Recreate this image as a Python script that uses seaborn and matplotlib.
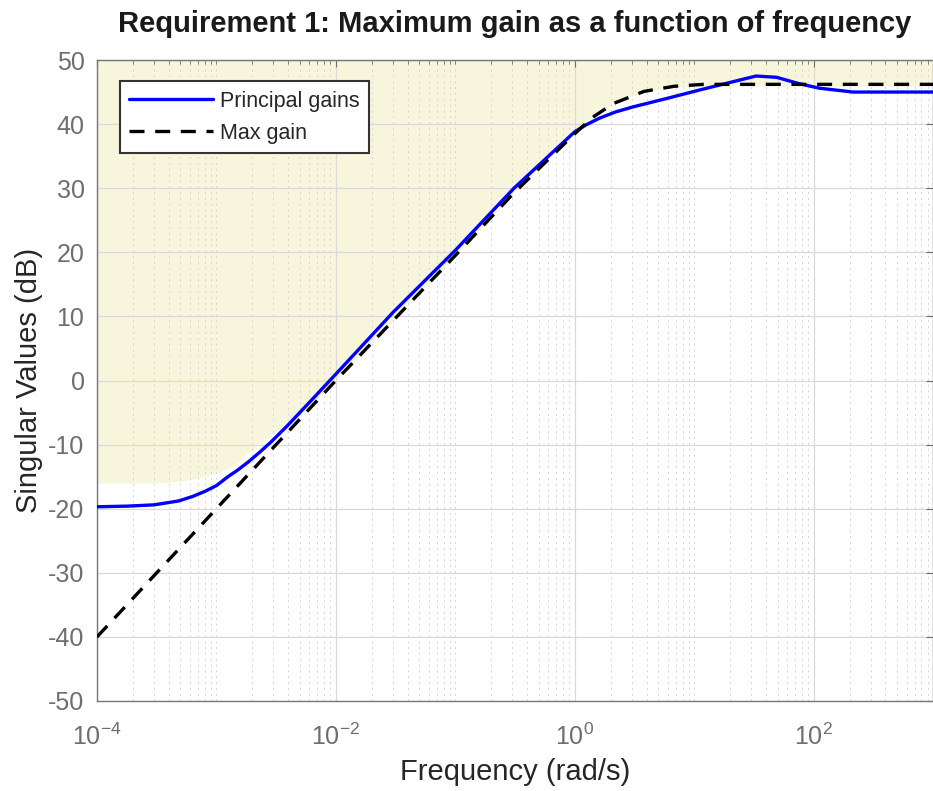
import matplotlib
matplotlib.use("Agg")
import matplotlib.pyplot as plt
import matplotlib.ticker as mticker
import seaborn as sns
import pandas as pd

# Principal gains (blue)
gain_freq = [1e-4, 1.8e-4, 3e-4, 4.8e-4, 6.3e-4, 8e-4, 1e-3, 1.25e-3, 1.5e-3, 1.85e-3, 2.3e-3,
             2.9e-3, 4e-3, 6.3e-3, 1e-2, 3e-2, 0.1, 0.31, 1.0, 1.25, 1.6, 2.2, 3.1, 5.9,
             11, 21, 33, 49, 76, 112, 214, 1000]
gain_db = [-19.7, -19.6, -19.4, -18.8, -18.1, -17.3, -16.4, -15.0, -14.0, -12.7, -11.2,
           -9.5, -6.9, -3.0, 1.0, 10.6, 20.3, 30.0, 38.8, 39.9, 40.9, 41.9, 42.7, 44.0,
           45.3, 46.6, 47.5, 47.3, 46.3, 45.6, 45.0, 45.0]

# Max gain requirement (dashed)
max_freq = [1e-4, 1e-3, 1e-2, 0.1, 0.3, 1.0, 1.4, 2.1, 3.8, 6.8, 12, 1000]
max_db = [-40.0, -20.0, 0.0, 19.5, 29.0, 38.5, 41.0, 43.2, 45.1, 45.9, 46.2, 46.2]

# Lower edge of the shaded (violating) region
shade_freq = [1e-4, 3e-4, 5e-4, 6.6e-4, 9e-4, 1.26e-3, 1.6e-3, 1.95e-3, 2.5e-3, 3.2e-3,
              6e-3, 1e-2, 0.1, 0.3, 1.0, 1.4, 2.1, 3.8, 6.8, 12, 1000]
shade_db = [-16.0, -16.0, -15.7, -15.3, -14.7, -13.7, -12.4, -10.8, -9.4, -8.0,
            -4.2, 0.0, 19.5, 29.0, 38.5, 41.0, 43.2, 45.1, 45.7, 45.9, 45.9]

gains = pd.DataFrame({"freq": gain_freq, "dB": gain_db})
maxg = pd.DataFrame({"freq": max_freq, "dB": max_db})

sns.set_style("white")
plt.rcParams["font.family"] = ["Liberation Sans", "DejaVu Sans"]
plt.rcParams["mathtext.fontset"] = "custom"
plt.rcParams["mathtext.rm"] = "Liberation Sans"
plt.rcParams["axes.unicode_minus"] = False

fig = plt.figure(figsize=(9.33, 7.91), dpi=100)
ax = fig.add_axes([97 / 933, 90 / 791, 836 / 933, 641 / 791])

ax.fill_between(shade_freq, shade_db, 50, color="#f7f6dc", linewidth=0, zorder=0)

sns.lineplot(data=gains, x="freq", y="dB", ax=ax, color="#0000ff", linewidth=2.4,
             label="Principal gains", estimator=None, sort=False, zorder=3)
sns.lineplot(data=maxg, x="freq", y="dB", ax=ax, color="black", linewidth=2.4,
             linestyle=(0, (4.5, 3.2)), label="Max gain", estimator=None, sort=False, zorder=4)

ax.set_xscale("log")
ax.set_xlim(1e-4, 1e3)
ax.set_ylim(-50, 50)
ax.set_yticks(range(-50, 51, 10))
ax.xaxis.set_major_locator(mticker.LogLocator(base=100))
ax.xaxis.set_major_formatter(mticker.LogFormatterSciNotation(base=10))
ax.xaxis.set_minor_locator(mticker.LogLocator(base=10, subs=range(1, 10), numticks=50))
ax.xaxis.set_minor_formatter(mticker.NullFormatter())

ax.grid(True, which="major", color="#d9d9d9", linewidth=0.9)
ax.grid(True, which="minor", axis="x", color="#d4d4d4", linewidth=0.7, linestyle=(0, (2, 4)))
ax.set_axisbelow(True)

ax.tick_params(which="both", direction="in", top=True, right=True, labelsize=18,
               colors="#6e6e6e", labelcolor="#6e6e6e")
ax.tick_params(which="major", length=5)
ax.tick_params(which="minor", length=3)
ax.tick_params(axis="x", pad=16)
ax.tick_params(axis="y", pad=9)
for s in ax.spines.values():
    s.set_color("#777777")
    s.set_linewidth(1.0)

ax.set_title("Requirement 1: Maximum gain as a function of frequency",
             fontsize=21, fontweight="bold", pad=20, color="#1a1a1a")
ax.set_xlabel("Frequency (rad/s)", fontsize=21, color="#262626", labelpad=6)
ax.set_ylabel("Singular Values (dB)", fontsize=21, color="#262626", labelpad=4)

leg = ax.legend(loc="upper left", bbox_to_anchor=(0.027, 0.967), fontsize=15.5,
                frameon=True, fancybox=False, framealpha=1, edgecolor="#333333",
                handlelength=3.9, handletextpad=0.3, borderpad=0.45, labelspacing=0.5,
                borderaxespad=0)
leg.get_frame().set_linewidth(1.5)
for t in leg.get_texts():
    t.set_color("#262626")

fig.savefig("out.png", dpi=100)
